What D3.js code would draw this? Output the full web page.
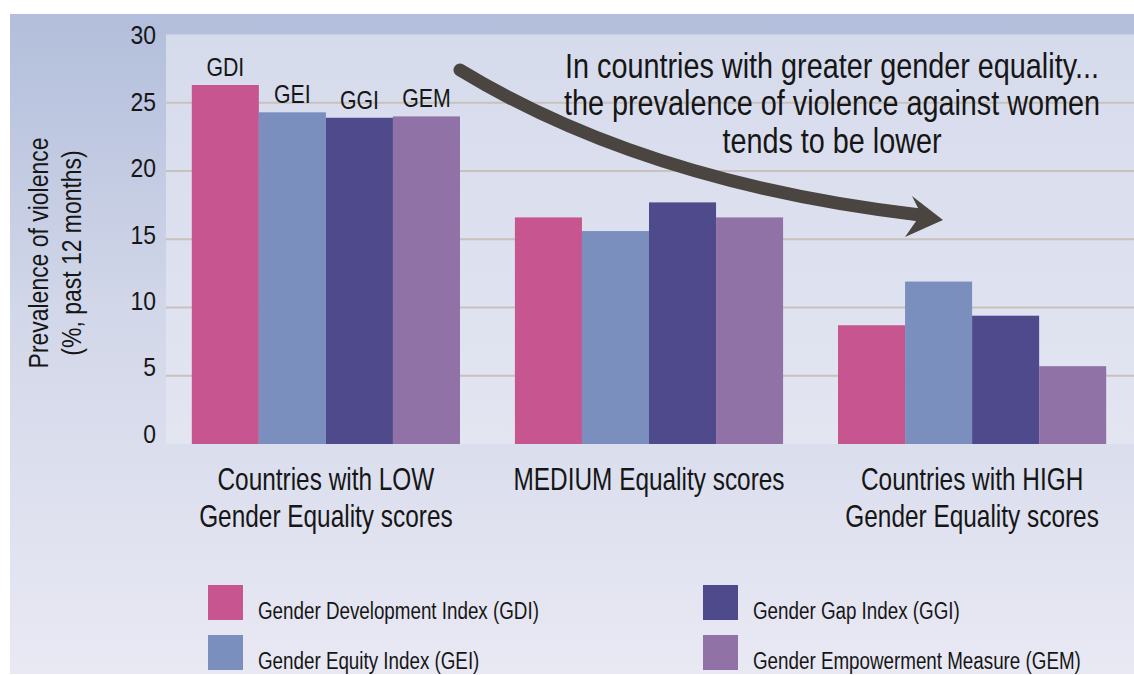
<!DOCTYPE html>
<html><head><meta charset="utf-8">
<script src="https://cdn.jsdelivr.net/npm/d3@7"></script>
<style>
html,body{margin:0;padding:0;background:#fff;}
svg{display:block;}
text{font-family:"Liberation Sans",Arial,"DejaVu Sans",sans-serif;fill:#161616;}
</style></head>
<body>
<svg id="chart" width="1134" height="675"></svg>
<script>
// ---- data ----
const groups = ["LOW", "MEDIUM", "HIGH"];
const groupLabels = [
  ["Countries with LOW", "Gender Equality scores"],
  ["MEDIUM Equality scores"],
  ["Countries with HIGH", "Gender Equality scores"]
];
const seriesKeys = ["GDI", "GEI", "GGI", "GEM"];
const seriesNames = [
  "Gender Development Index (GDI)",
  "Gender Equity Index (GEI)",
  "Gender Gap Index (GGI)",
  "Gender Empowerment Measure (GEM)"
];
const gdiValues = [26.3, 16.6, 8.7];
const geiValues = [24.3, 15.6, 11.9];
const ggiValues = [23.9, 17.7, 9.4];
const gemValues = [24.0, 16.6, 5.7];
const yTicks = [0, 5, 10, 15, 20, 25, 30];
const yTitle = ["Prevalence of violence", "(%, past 12 months)"];
const annotation = [
  "In countries with greater gender equality...",
  "the prevalence of violence against women",
  "tends to be lower"
];
const colors = ["#c65590", "#7b8fbf", "#4f4a8c", "#9172a7"];

const seriesValues = [gdiValues, geiValues, ggiValues, gemValues];

// ---- layout ----
const W = 1134, H = 675;
const COND = 0.8; // horizontal condensing of the sans face
const plot = {left: 166, right: 1134, top: 34.5, bottom: 444};
const svg = d3.select("#chart");
const defs = svg.append("defs");

const g1 = defs.append("linearGradient").attr("id","bgOuter").attr("x1",0).attr("y1",0).attr("x2",0).attr("y2",1);
g1.append("stop").attr("offset","0%").attr("stop-color","#b2bedb");
g1.append("stop").attr("offset","45%").attr("stop-color","#d2d7e9");
g1.append("stop").attr("offset","100%").attr("stop-color","#e9e9f4");
const g2 = defs.append("linearGradient").attr("id","bgPlot").attr("x1",0).attr("y1",0).attr("x2",0).attr("y2",1);
g2.append("stop").attr("offset","0%").attr("stop-color","#d6dbec");
g2.append("stop").attr("offset","100%").attr("stop-color","#e3e5f1");

svg.append("rect").attr("x",10).attr("y",14).attr("width",W-10).attr("height",660).attr("fill","url(#bgOuter)");
svg.append("rect").attr("x",plot.left).attr("y",plot.top)
  .attr("width",plot.right-plot.left).attr("height",plot.bottom-plot.top).attr("fill","url(#bgPlot)");

// scales
const x0 = d3.scaleBand().domain(groups).range([165, 1133]).paddingInner(0.17).paddingOuter(0.083);
const x1 = d3.scaleBand().domain(seriesKeys).range([0, x0.bandwidth()]).padding(0);
const y = d3.scaleLinear().domain([0, 30]).range([plot.bottom, plot.top]);
const yLab = d3.scaleLinear().domain([0, 30]).range([434, 35.5]);
const color = d3.scaleOrdinal().domain(seriesKeys).range(colors);

// condensed multi-line text helper
function condText(parent, cx, lines, y0, dy, size, k, anchor) {
  const t = parent.append("text")
    .attr("transform", `translate(${cx},0) scale(${k},1)`)
    .attr("text-anchor", anchor || "middle").attr("font-size", size);
  lines.forEach((line, i) => t.append("tspan").attr("x", 0).attr("y", y0 + i * dy).text(line));
  return t;
}

// gridlines
svg.append("g").selectAll("line").data(yTicks.filter(t => t > 0 && t < 30)).join("line")
  .attr("x1", plot.left).attr("x2", plot.right)
  .attr("y1", d => y(d)).attr("y2", d => y(d))
  .attr("stroke", "#c8c1bc").attr("stroke-width", 2);

// y axis labels
const yAxis = svg.append("g").attr("transform", "translate(156,0)")
  .call(d3.axisLeft(yLab).tickValues(yTicks).tickSize(0).tickPadding(0));
yAxis.select(".domain").remove();
yAxis.selectAll("text").attr("font-size", 26).attr("fill", "#161616")
  .attr("transform", "scale(0.88,1)")
  .style("font-family", '"Liberation Sans",Arial,sans-serif');

// y title
const yt = svg.append("text").attr("transform", `translate(0,253) rotate(-90) scale(0.85,1)`)
  .attr("text-anchor", "middle").attr("font-size", 27);
yt.append("tspan").attr("x", 0).attr("y", 48).text(yTitle[0]);
yt.append("tspan").attr("x", 0).attr("y", 81).text(yTitle[1]);

// bars
const rows = groups.map((g, i) => ({group: g, vals: seriesKeys.map((k, j) => ({key: k, value: seriesValues[j][i]}))}));
const gg = svg.append("g").selectAll("g").data(rows).join("g")
  .attr("transform", d => `translate(${x0(d.group)},0)`);
gg.selectAll("rect").data(d => d.vals).join("rect")
  .attr("x", d => x1(d.key)).attr("width", x1.bandwidth())
  .attr("y", d => y(d.value)).attr("height", d => y(0) - y(d.value))
  .attr("fill", d => color(d.key));

// series labels above first group
svg.append("g").selectAll("text").data(rows[0].vals).join("text")
  .attr("transform", d => `translate(${x0(groups[0]) + x1(d.key) + x1.bandwidth() / 2},${y(d.value) - 9}) scale(0.82,1)`)
  .attr("text-anchor", "middle").attr("font-size", 26)
  .text(d => d.key);

// category labels
groups.forEach((g, i) => {
  condText(svg, x0(g) + x0.bandwidth() / 2, groupLabels[i], 490, 37, 30.5, COND);
});

// annotation text
condText(svg, 832, annotation, 78, 37.5, 36, COND);

// arrow
svg.append("path")
  .attr("d", "M460,70 Q646,183 920,215")
  .attr("fill", "none").attr("stroke", "#4a4541").attr("stroke-width", 13).attr("stroke-linecap", "round");
svg.append("path")
  .attr("d", "M943,220 L912,196 L921,214 L905,237 Z")
  .attr("fill", "#4a4541");

// legend
const legendPos = [
  {x: 208, y: 585}, {x: 208, y: 635}, {x: 703, y: 585}, {x: 703, y: 635}
];
const lg = svg.append("g").selectAll("g").data(seriesKeys).join("g")
  .attr("transform", (d, i) => `translate(${legendPos[i].x},${legendPos[i].y})`);
lg.append("rect").attr("width", 35).attr("height", 35).attr("fill", d => color(d));
lg.append("text").attr("transform", `translate(50,34) scale(${COND},1)`).attr("font-size", 23.5)
  .text((d, i) => seriesNames[i]);
</script>
</body></html>
